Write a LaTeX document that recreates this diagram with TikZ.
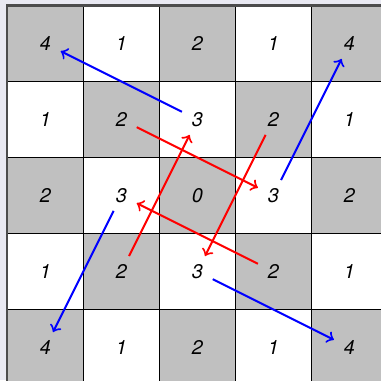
\documentclass[tikz,border=0pt]{standalone}
\usepackage{fontspec}
\setmainfont{TeX Gyre Heros}
\definecolor{bgc}{RGB}{233,233,242}
\definecolor{cellgray}{RGB}{192,192,192}
\begin{document}
\begin{tikzpicture}[
  num/.style={circle,inner sep=0pt,minimum size=0.44cm,font=\fontsize{7.4}{9}\selectfont\itshape},
  blu/.style={draw=blue,line width=0.75pt,->},
  rd/.style={draw=red,line width=0.75pt,->}
]
\useasboundingbox[fill=bgc] (-0.096,0.072) rectangle (4.917,-4.928);
% cells
\foreach \r in {0,...,4}{
  \foreach \c in {0,...,4}{
    \pgfmathtruncatemacro{\cellpar}{mod(\r+\c,2)}
    \ifnum\cellpar=0
      \fill[cellgray] (\c,-\r) rectangle (\c+1,-\r-1);
    \else
      \fill[white] (\c,-\r) rectangle (\c+1,-\r-1);
    \fi
  }
}
\draw[line width=0.5pt] (0,0) grid[step=1] (5,-5);
\draw[line width=0.8pt,black!70] (0,0) rectangle (5,-5);
% numbers
\foreach \r/\row in {0/{4,1,2,1,4},1/{1,2,3,2,1},2/{2,3,0,3,2},3/{1,2,3,2,1},4/{4,1,2,1,4}}{
  \foreach \v [count=\c from 0] in \row {
    \node[num] (n\r\c) at (\c+0.5,-\r-0.5) {\v};
  }
}
% blue arrows
\draw[blu] (n12) -- (n00);
\draw[blu] (n23) -- (n04);
\draw[blu] (n21) -- (n40);
\draw[blu] (n32) -- (n44);
% red arrows
\draw[rd] (n11) -- (n23);
\draw[rd] (n13) -- (n32);
\draw[rd] (n33) -- (n21);
\draw[rd] (n31) -- (n12);
\end{tikzpicture}
\end{document}
